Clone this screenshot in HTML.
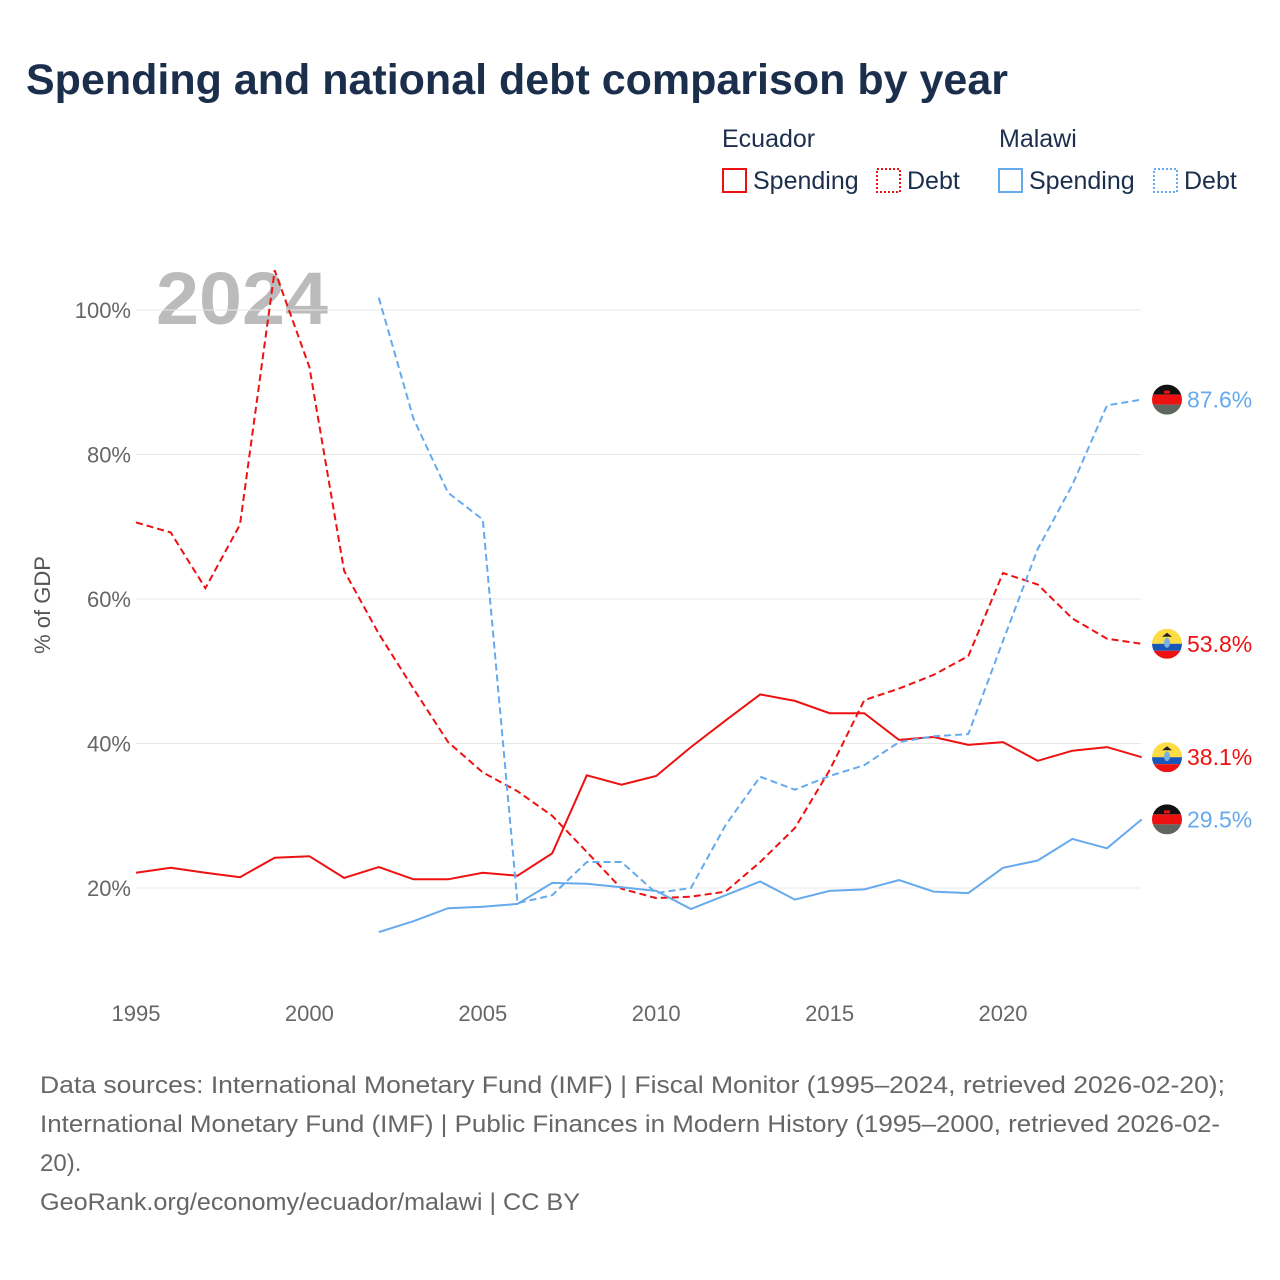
<!DOCTYPE html>
<html><head><meta charset="utf-8"><style>
body{margin:0;background:#fff;font-family:"Liberation Sans",sans-serif;}
svg{display:block}
</style></head><body>
<svg id="chart" width="1280" height="1280" viewBox="0 0 1280 1280">
<text x="26" y="94" font-size="43" font-weight="bold" fill="#1b2f4d" textLength="982" lengthAdjust="spacingAndGlyphs">Spending and national debt comparison by year</text>
<g font-size="25" fill="#1b2f4d">
<text x="722" y="147">Ecuador</text>
<text x="999" y="147">Malawi</text>
<g><rect x="723" y="169" width="23" height="23" fill="none" stroke="#ee1111" stroke-width="2"/><text x="753" y="189">Spending</text></g>
<g><rect x="877" y="169" width="23" height="23" fill="none" stroke="#ee1111" stroke-width="2" stroke-dasharray="2,2"/><text x="907" y="189">Debt</text></g>
<g><rect x="999" y="169" width="23" height="23" fill="none" stroke="#66aaee" stroke-width="2"/><text x="1029" y="189">Spending</text></g>
<g><rect x="1154" y="169" width="23" height="23" fill="none" stroke="#66aaee" stroke-width="2" stroke-dasharray="2,2"/><text x="1184" y="189">Debt</text></g>
</g>
<text x="156" y="324" font-size="74" font-weight="bold" fill="#bbbbbb" textLength="172" lengthAdjust="spacingAndGlyphs">2024</text>
<g id="grid"></g><g id="series"></g><g id="labels"></g>
<text transform="translate(50,605) rotate(-90)" text-anchor="middle" font-size="22" fill="#555">% of GDP</text>
<g font-size="24" fill="#666">
<text x="40" y="1093" textLength="1185" lengthAdjust="spacingAndGlyphs">Data sources: International Monetary Fund (IMF) | Fiscal Monitor (1995–2024, retrieved 2026-02-20);</text>
<text x="40" y="1132" textLength="1180" lengthAdjust="spacingAndGlyphs">International Monetary Fund (IMF) | Public Finances in Modern History (1995–2000, retrieved 2026-02-</text>
<text x="40" y="1171">20).</text>
<text x="40" y="1210" textLength="540" lengthAdjust="spacingAndGlyphs">GeoRank.org/economy/ecuador/malawi | CC BY</text>
</g>
</svg>
<script>
const years=[];for(let y=1995;y<=2024;y++)years.push(y);
const xTicks=[1995,2000,2005,2010,2015,2020];
const yTicks=[20,40,60,80,100];
const ecuSpending=[22.1,22.8,22.1,21.5,24.2,24.4,21.4,22.9,21.2,21.2,22.1,21.7,24.8,35.6,34.3,35.5,39.5,43.2,46.8,45.9,44.2,44.2,40.5,40.9,39.8,40.2,37.6,39.0,39.5,38.1];
const ecuDebt=[70.6,69.2,61.5,70.3,105.5,92.1,63.9,55.2,47.6,40.2,36.0,33.4,30.0,25.0,19.9,18.6,18.8,19.5,23.6,28.3,36.3,46.0,47.6,49.5,52.1,63.6,62.0,57.3,54.5,53.8];
const mwiSpending=[null,null,null,null,null,null,null,13.9,15.4,17.2,17.4,17.8,20.7,20.6,20.1,19.6,17.1,19.0,20.9,18.4,19.6,19.8,21.1,19.5,19.3,22.8,23.8,26.8,25.5,29.5];
const mwiDebt=[null,null,null,null,null,null,null,101.7,85.0,74.7,71.0,17.9,19.0,23.6,23.6,19.3,20.0,28.7,35.4,33.6,35.5,37.0,40.2,41.0,41.3,54.2,66.9,75.8,86.8,87.6];
const NS='http://www.w3.org/2000/svg';
const X=y=>136+(y-1995)*34.68;
const Y=v=>1032.5-v*7.225;
function mk(tag,attrs,parent){const e=document.createElementNS(NS,tag);for(const k in attrs)e.setAttribute(k,attrs[k]);parent.appendChild(e);return e;}
const grid=document.getElementById('grid'),ser=document.getElementById('series'),lab=document.getElementById('labels');
yTicks.forEach(v=>{
 const l=mk('line',{x1:136,x2:1141,y1:Y(v),y2:Y(v),stroke:'#e8e8e8','stroke-width':1},grid);
 
 
 const t=mk('text',{x:131,y:Y(v)+8,'text-anchor':'end','font-size':22,fill:'#666'},grid);t.textContent=v+'%';
 
 
});
xTicks.forEach(yr=>{
 const t=mk('text',{x:X(yr),y:1021,'text-anchor':'middle','font-size':22,fill:'#666'},grid);t.textContent=yr;
 
 
});
function line(vals,color,dash,name){
 let d='';vals.forEach((v,i)=>{if(v==null)return;d+=(d?'L':'M')+X(years[i]).toFixed(1)+','+Y(v).toFixed(1);});
 const p=mk('path',{d:d,fill:'none',stroke:color,'stroke-width':2,'stroke-dasharray':dash},ser);
 
 
}
line(ecuSpending,'#ee1111','none','ecuador-spending-line');
line(ecuDebt,'#ee1111','7,4','ecuador-debt-line');
line(mwiSpending,'#66aaee','none','malawi-spending-line');
line(mwiDebt,'#66aaee','7,4','malawi-debt-line');
function flag(cy,country,val,color,name){
 const g=mk('g',{},lab);
 
 
 const cx=1167,r=15,id='c'+name;
 const cp=mk('clipPath',{id:id},g);mk('circle',{cx:cx,cy:cy,r:r},cp);
 const f=mk('g',{'clip-path':'url(#'+id+')'},g);
 if(country==='mwi'){
  mk('rect',{x:cx-r,y:cy-r,width:30,height:10,fill:'#111'},f);
  mk('rect',{x:cx-r,y:cy-5,width:30,height:10,fill:'#ee1111'},f);
  mk('rect',{x:cx-r,y:cy+5,width:30,height:10,fill:'#5f655f'},f);
  mk('rect',{x:cx-3,y:cy-9,width:6,height:3,fill:'#ee1111'},f);
 }else{
  mk('rect',{x:cx-r,y:cy-r,width:30,height:15,fill:'#fddc44'},f);
  mk('rect',{x:cx-r,y:cy,width:30,height:7,fill:'#1a56b8'},f);
  mk('rect',{x:cx-r,y:cy+7,width:30,height:8,fill:'#ee1111'},f);
  mk('ellipse',{cx:cx,cy:cy-1,rx:3,ry:5,fill:'#7ab0e0'},f);
  mk('path',{d:`M${cx-5},${cy-7}L${cx},${cy-11}L${cx+5},${cy-7}Z`,fill:'#222'},f);
 }
 const t=mk('text',{x:1187,y:cy+8,'font-size':23,fill:color},g);t.textContent=val.toFixed(1)+'%';
}
flag(Y(mwiDebt[29]),'mwi',mwiDebt[29],'#66aaee','label-malawi-debt');
flag(Y(ecuDebt[29]),'ecu',ecuDebt[29],'#ee1111','label-ecuador-debt');
flag(Y(ecuSpending[29]),'ecu',ecuSpending[29],'#ee1111','label-ecuador-spending');
flag(Y(mwiSpending[29]),'mwi',mwiSpending[29],'#66aaee','label-malawi-spending');
</script>
</body></html>
